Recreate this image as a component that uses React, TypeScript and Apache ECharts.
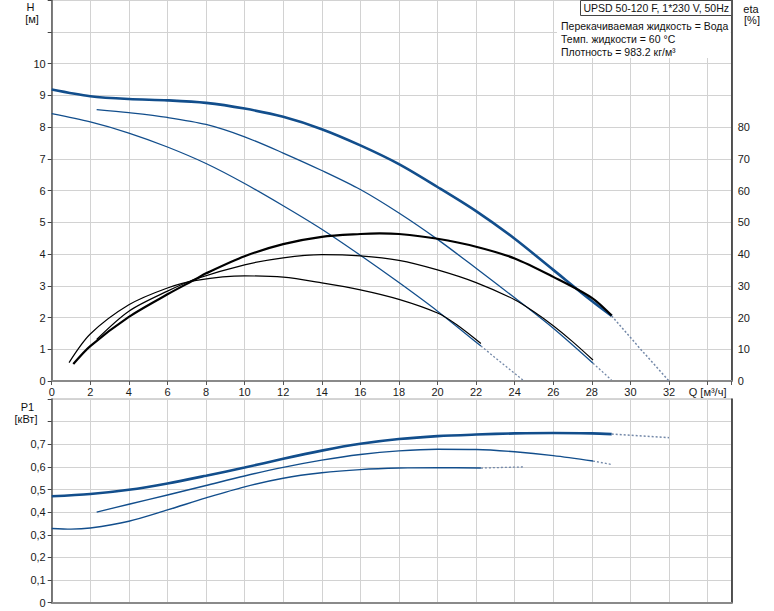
import React, { useEffect, useRef } from "react";
import * as echarts from "echarts";

// ---- Data ----
// H curves [m]
const Q_H_MAX = [0, 2, 4, 6, 8, 10, 12, 14, 16, 18, 20, 22, 24, 26, 28, 29.03];
const H_MAX = [9.18, 8.97, 8.88, 8.84, 8.76, 8.58, 8.32, 7.93, 7.42, 6.83, 6.11, 5.35, 4.48, 3.5, 2.52, 2.05];
const Q_H_MAX_EXT = [29.03, 30.5, 32];
const H_MAX_EXT = [2.05, 1.02, 0];

const Q_H_MID = [2.33, 4, 6, 8, 10, 12, 14, 16, 18, 20, 22, 24, 26, 28.06];
const H_MID = [8.55, 8.45, 8.3, 8.08, 7.69, 7.18, 6.63, 6.03, 5.29, 4.46, 3.55, 2.62, 1.66, 0.56];
const Q_H_MID_EXT = [28.06, 29.02];
const H_MID_EXT = [0.56, 0.03];

const Q_H_LOW = [0, 2, 4, 6, 8, 10, 12, 14, 16, 18, 20, 22.25];
const H_LOW = [8.42, 8.16, 7.81, 7.37, 6.85, 6.22, 5.52, 4.78, 3.96, 3.1, 2.2, 1.1];
const Q_H_LOW_EXT = [22.25, 24.48];
const H_LOW_EXT = [1.1, 0];

// eta curves [%]
const Q_ETA_MAX = [1.12, 2, 4, 6, 7.5, 8, 10, 12, 14, 16, 17, 18, 20, 22, 24, 26, 28, 29.03];
const ETA_MAX = [5.35, 11.0, 20.2, 27.3, 32.2, 33.9, 39.3, 43.1, 45.4, 46.3, 46.5, 46.3, 44.8, 42.3, 38.6, 32.8, 26.2, 20.6];

const Q_ETA_MID = [2.33, 4, 6, 7.5, 10, 12, 14, 16, 18, 20, 22, 24, 25, 26, 27, 28.06];
const ETA_MID = [13.1, 22.0, 28.3, 32.2, 36.6, 38.8, 39.8, 39.4, 38.0, 35.0, 31.0, 25.6, 21.8, 17.4, 12.4, 6.6];

const Q_ETA_LOW = [0.9, 2, 4, 6, 7.5, 10, 12, 14, 16, 18, 20, 21, 22.25];
const ETA_LOW = [5.8, 14.8, 24.0, 29.3, 31.7, 33.1, 32.7, 30.9, 28.7, 25.7, 21.4, 17.7, 11.8];

// P1 curves [kW]
const Q_P_MAX = [0, 2, 4, 6, 8, 10, 12, 14, 16, 18, 20, 22, 24, 26, 28, 29.03];
const P_MAX = [0.47, 0.48, 0.499, 0.527, 0.561, 0.597, 0.636, 0.672, 0.702, 0.723, 0.736, 0.743, 0.748, 0.75, 0.748, 0.745];
const Q_P_MAX_EXT = [29.03, 32];
const P_MAX_EXT = [0.745, 0.729];

const Q_P_MID = [2.33, 4, 6, 8, 10, 12, 14, 16, 18, 20, 22, 24, 26, 28.06];
const P_MID = [0.4, 0.435, 0.476, 0.518, 0.56, 0.598, 0.63, 0.655, 0.671, 0.678, 0.677, 0.667, 0.65, 0.626];
const Q_P_MID_EXT = [28.06, 29];
const P_MID_EXT = [0.626, 0.611];

const Q_P_LOW = [0, 1, 2, 4, 6, 8, 10, 12, 14, 16, 18, 20, 22.25];
const P_LOW = [0.328, 0.325, 0.33, 0.36, 0.41, 0.463, 0.512, 0.55, 0.574, 0.588, 0.595, 0.597, 0.595];
const Q_P_LOW_EXT = [22.25, 24.5];
const P_LOW_EXT = [0.595, 0.6];

// Axis tick labels
const H_LABEL_MAX = 10;
const ETA_LABEL_MAX = 80;
const P_LABEL_MAX = 0.7;
const Q_LABEL_MAX = 32;
const Q_UNIT_TICK = 34;

const TITLE = "UPSD 50-120 F, 1*230 V, 50Hz";
const INFO = [
  "Перекачиваемая жидкость = Вода",
  "Темп. жидкости = 60 °C",
  "Плотность = 983.2 кг/м³",
];

const FONT = "'Liberation Sans', Arial, sans-serif";
const BLUE = "#124e8c";
const EXT = "#7388a8";

const pairs = (xs: number[], ys: number[]) => xs.map((x, i) => [x, ys[i]]);

function lineSeries(xs: number[], ys: number[], xi: number, yi: number, color: string, width: number, dashed = false) {
  return {
    type: "line",
    xAxisIndex: xi,
    yAxisIndex: yi,
    data: pairs(xs, ys),
    smooth: dashed ? false : 0.3,
    showSymbol: false,
    symbol: "none",
    silent: true,
    lineStyle: { color, width, type: dashed ? [2, 2] : "solid" },
    z: 3,
  };
}

export default function App() {
  const ref = useRef<HTMLDivElement>(null);
  useEffect(() => {
    if (!ref.current) return;
    const chart = echarts.init(ref.current, null, { renderer: "svg" });
    const L = 51.7;
    const R = 731.7;
    const W = R - L;
    const labelStyle = { fontSize: 11, color: "#1a1a1a", fontFamily: FONT };
    const split = { show: true, lineStyle: { color: "#d2d2d2", width: 1 } };
    const txt = (text: string, x: number, y: number, align = "center", size = 11) => ({
      type: "text", z: 12, x, y,
      style: { text, fontSize: size, fontFamily: FONT, fill: "#111", align, verticalAlign: "middle" },
    });
    const option: any = {
      animation: false,
      backgroundColor: "#fff",
      grid: [
        { left: L, top: 0, width: W, height: 381, containLabel: false },
        { left: L, top: 399, width: W, height: 203.7, containLabel: false, show: true, borderColor: "#aaa", borderWidth: 1 },
      ],
      xAxis: [
        {
          type: "value", gridIndex: 0, min: 0, max: 35.25, interval: 2,
          axisLine: { show: true, lineStyle: { color: "#8a8a8a", width: 2 } },
          axisTick: { show: true, length: 4, lineStyle: { color: "#555" } },
          axisLabel: {
            ...labelStyle, margin: 5,
            formatter: (v: number) => (Math.abs(v - Q_UNIT_TICK) < 1e-6 ? "Q [м³/ч]" : v <= Q_LABEL_MAX && Math.abs(v % 2) < 1e-6 ? String(v) : ""),
          },
          splitLine: split,
        },
        {
          type: "value", gridIndex: 1, min: 0, max: 35.25, interval: 2,
          axisLine: { show: true, lineStyle: { color: "#8a8a8a", width: 2 } },
          axisTick: { show: false },
          axisLabel: { show: false },
          splitLine: split,
        },
      ],
      yAxis: [
        {
          type: "value", gridIndex: 0, position: "left", min: 0, max: 12, interval: 1,
          axisLine: { show: true, lineStyle: { color: "#555", width: 1.5 } },
          axisTick: { show: true, length: 4, lineStyle: { color: "#444" } },
          axisLabel: { ...labelStyle, margin: 6, formatter: (v: number) => (v <= H_LABEL_MAX ? String(v) : "") },
          splitLine: split,
        },
        {
          type: "value", gridIndex: 0, position: "right", min: 0, max: 120, interval: 10,
          axisLine: { show: true, onZero: false, lineStyle: { color: "#222", width: 1.5 } },
          axisTick: { show: false },
          axisLabel: { ...labelStyle, margin: 6, formatter: (v: number) => (v <= ETA_LABEL_MAX ? String(v) : "") },
          splitLine: { show: false },
        },
        {
          type: "value", gridIndex: 1, position: "left", min: 0, max: 0.9, interval: 0.1,
          axisLine: { show: true, lineStyle: { color: "#555", width: 1.5 } },
          axisTick: { show: true, length: 4, lineStyle: { color: "#444" } },
          axisLabel: {
            ...labelStyle, margin: 6,
            formatter: (v: number) => (v <= P_LABEL_MAX + 1e-6 ? (v < 1e-6 ? "0" : v.toFixed(1).replace(".", ",")) : ""),
          },
          splitLine: split,
        },
        {
          type: "value", gridIndex: 1, position: "right", min: 0, max: 0.9, interval: 0.1,
          axisLine: { show: true, onZero: false, lineStyle: { color: "#222", width: 1.5 } },
          axisTick: { show: false },
          axisLabel: { show: false },
          splitLine: { show: false },
        },
      ],
      series: [
        lineSeries(Q_H_LOW, H_LOW, 0, 0, BLUE, 1.3),
        lineSeries(Q_H_MID, H_MID, 0, 0, BLUE, 1.3),
        lineSeries(Q_H_MAX, H_MAX, 0, 0, BLUE, 2.6),
        lineSeries(Q_H_LOW_EXT, H_LOW_EXT, 0, 0, EXT, 1.3, true),
        lineSeries(Q_H_MID_EXT, H_MID_EXT, 0, 0, EXT, 1.3, true),
        lineSeries(Q_H_MAX_EXT, H_MAX_EXT, 0, 0, EXT, 1.5, true),
        lineSeries(Q_ETA_LOW, ETA_LOW, 0, 1, "#000", 1.2),
        lineSeries(Q_ETA_MID, ETA_MID, 0, 1, "#000", 1.2),
        lineSeries(Q_ETA_MAX, ETA_MAX, 0, 1, "#000", 2.2),
        lineSeries(Q_P_LOW, P_LOW, 1, 2, BLUE, 1.4),
        lineSeries(Q_P_MID, P_MID, 1, 2, BLUE, 1.4),
        lineSeries(Q_P_MAX, P_MAX, 1, 2, BLUE, 2.6),
        lineSeries(Q_P_LOW_EXT, P_LOW_EXT, 1, 2, EXT, 1.3, true),
        lineSeries(Q_P_MID_EXT, P_MID_EXT, 1, 2, EXT, 1.3, true),
        lineSeries(Q_P_MAX_EXT, P_MAX_EXT, 1, 2, EXT, 1.5, true),
      ],
      graphic: [
        { type: "rect", z: 10, shape: { x: 557, y: 15, width: R - 557 - 1, height: 43 }, style: { fill: "#fff" } },
        { type: "rect", z: 11, shape: { x: 580.5, y: 0.5, width: R - 580.5, height: 15 }, style: { fill: "#fff", stroke: "#444", lineWidth: 1 } },
        txt(TITLE, 583.5, 8, "left", 10.5),
        ...INFO.map((t, i) => txt(t, 561, 26 + i * 12.8, "left", 10.5)),
        txt("H", 30.5, 7),
        txt("[м]", 32, 19),
        txt("eta", 751, 9),
        txt("[%]", 752, 20),
        txt("P1", 27.5, 406.5),
        txt("[кВт]", 26, 419),
      ],
    };
    chart.setOption(option);
    return () => chart.dispose();
  }, []);
  return <div ref={ref} style={{ position: "absolute", left: 0, top: 0, width: 774, height: 611 }} />;
}
